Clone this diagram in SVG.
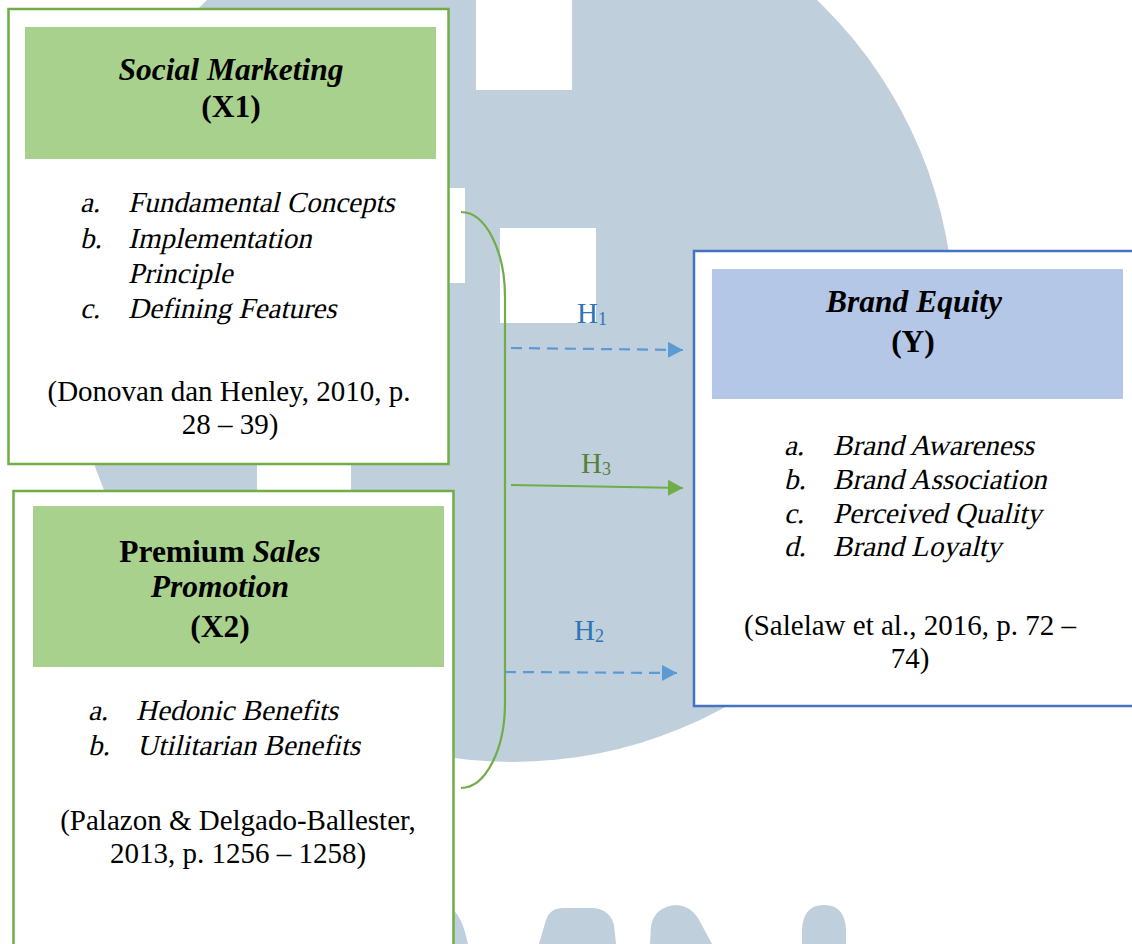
<svg xmlns="http://www.w3.org/2000/svg" width="1132" height="944" viewBox="0 0 1132 944">
  <style>
    .wm { fill: #bfcfdc; }
    .hole { fill: #ffffff; }
    .box-green { fill: #ffffff; stroke: #70ad47; stroke-width: 2.5; }
    .box-blue { fill: #ffffff; stroke: #4472c4; stroke-width: 2.5; }
    .head-green { fill: #a9d18e; }
    .head-blue { fill: #b4c7e7; }
    text { font-family: "Liberation Serif", "Times New Roman", serif; fill: #000000; }
    .title { font-size: 31.5px; font-weight: bold; text-anchor: middle; }
    .bi { font-style: italic; }
    .item { font-size: 29px; }
    .cite { font-size: 29px; text-anchor: middle; }
    .hlab { font-size: 29px; }
    .hsub { font-size: 18px; }
    .blue-lab { fill: #2e75b6; }
    .green-lab { fill: #548235; }
    .brace { fill: none; stroke: #70ad47; stroke-width: 2.2; }
    .dash { fill: none; stroke: #5b9bd5; stroke-width: 2.2; stroke-dasharray: 11 7; }
    .solid { fill: none; stroke: #70ad47; stroke-width: 2.2; }
  </style>
  <defs>
    <marker id="arrowBlue" markerWidth="16" markerHeight="16" refX="15" refY="8" orient="auto" markerUnits="userSpaceOnUse">
      <path d="M0,0 L15,8 L0,16 Z" fill="#5b9bd5"/>
    </marker>
    <marker id="arrowGreen" markerWidth="16" markerHeight="16" refX="15" refY="8" orient="auto" markerUnits="userSpaceOnUse">
      <path d="M0,0 L15,8 L0,16 Z" fill="#70ad47"/>
    </marker>
  </defs>

  <rect width="1132" height="944" fill="#ffffff"/>

  <!-- background emblem -->
  <g id="watermark">
    <circle class="wm" cx="512" cy="320" r="442"/>
    <rect class="hole" x="476" y="-5" width="96" height="95"/>
    <rect class="hole" x="500" y="228" width="96" height="95"/>
    <rect class="hole" x="400" y="188" width="65" height="95"/>
    <rect class="hole" x="257" y="400" width="94" height="160"/>
    <path class="wm" d="M420,944 L425,918 Q436,906 452,909 Q462,916 468,944 Z"/>
    <path class="wm" d="M539,944 L546,920 Q550,908 563,908 L594,908 Q610,910 614,925 L616,944 Z"/>
    <path class="wm" d="M650,944 L651,926 Q655,906 677,905 Q690,906 698,918 L712,944 Z"/>
    <path class="wm" d="M802,944 L802,930 Q803,905 824,905 Q845,905 846,930 L846,944 Z"/>
  </g>

  <!-- X1 -->
  <g id="social-marketing">
    <rect class="box-green" x="8.5" y="9" width="440" height="455"/>
    <rect class="head-green" x="25" y="27" width="411" height="132"/>
    <text class="title bi" x="231" y="80">Social Marketing</text>
    <text class="title" x="231" y="117">(X1)</text>
    <text class="item" transform="translate(80,212) skewX(-13)">a.</text>
    <text class="item" transform="translate(128,212) skewX(-13)">Fundamental Concepts</text>
    <text class="item" transform="translate(80,248) skewX(-13)">b.</text>
    <text class="item" transform="translate(128,248) skewX(-13)">Implementation</text>
    <text class="item" transform="translate(128,283) skewX(-13)">Principle</text>
    <text class="item" transform="translate(80,318) skewX(-13)">c.</text>
    <text class="item" transform="translate(128,318) skewX(-13)">Defining Features</text>
    <text class="cite" x="229" y="401">(Donovan dan Henley, 2010, p.</text>
    <text class="cite" x="230" y="434">28 – 39)</text>
  </g>

  <!-- X2 -->
  <g id="premium-sales-promotion">
    <rect class="box-green" x="13.5" y="491" width="440" height="470"/>
    <rect class="head-green" x="33" y="506" width="411" height="161"/>
    <text class="title" x="220" y="562">Premium <tspan class="bi">Sales</tspan></text>
    <text class="title bi" x="220" y="597">Promotion</text>
    <text class="title" x="220" y="637">(X2)</text>
    <text class="item" transform="translate(88,720) skewX(-13)">a.</text>
    <text class="item" transform="translate(136,720) skewX(-13)">Hedonic Benefits</text>
    <text class="item" transform="translate(88,755) skewX(-13)">b.</text>
    <text class="item" transform="translate(137,755) skewX(-13)">Utilitarian Benefits</text>
    <text class="cite" x="238" y="830">(Palazon &amp; Delgado-Ballester,</text>
    <text class="cite" x="238" y="863">2013, p. 1256 – 1258)</text>
  </g>

  <!-- Y -->
  <g id="brand-equity">
    <rect class="box-blue" x="694" y="251" width="450" height="455"/>
    <rect class="head-blue" x="712" y="269" width="411" height="130"/>
    <text class="title bi" x="914" y="312">Brand Equity</text>
    <text class="title" x="913" y="352">(Y)</text>
    <text class="item" transform="translate(784,455) skewX(-13)">a.</text>
    <text class="item" transform="translate(833,455) skewX(-13)">Brand Awareness</text>
    <text class="item" transform="translate(784,489) skewX(-13)">b.</text>
    <text class="item" transform="translate(833,489) skewX(-13)">Brand Association</text>
    <text class="item" transform="translate(784,523) skewX(-13)">c.</text>
    <text class="item" transform="translate(833,523) skewX(-13)">Perceived Quality</text>
    <text class="item" transform="translate(784,556) skewX(-13)">d.</text>
    <text class="item" transform="translate(833,556) skewX(-13)">Brand Loyalty</text>
    <text class="cite" x="910" y="635">(Salelaw et al., 2016, p. 72 –</text>
    <text class="cite" x="910" y="668">74)</text>
  </g>

  <!-- connectors -->
  <g id="connectors">
    <path class="brace" d="M461,212 A44,85 0 0 1 505,297 L505,703 A44,85 0 0 1 461,788"/>
    <path class="dash" d="M511,348 L683,350" marker-end="url(#arrowBlue)"/>
    <path class="solid" d="M511,485 L683,488" marker-end="url(#arrowGreen)"/>
    <path class="dash" d="M505,672 L677,673" marker-end="url(#arrowBlue)"/>
    <text class="hlab blue-lab" x="577" y="323">H<tspan class="hsub" dy="2">1</tspan></text>
    <text class="hlab green-lab" x="581" y="473">H<tspan class="hsub" dy="2">3</tspan></text>
    <text class="hlab blue-lab" x="574" y="640">H<tspan class="hsub" dy="2">2</tspan></text>
  </g>
</svg>
